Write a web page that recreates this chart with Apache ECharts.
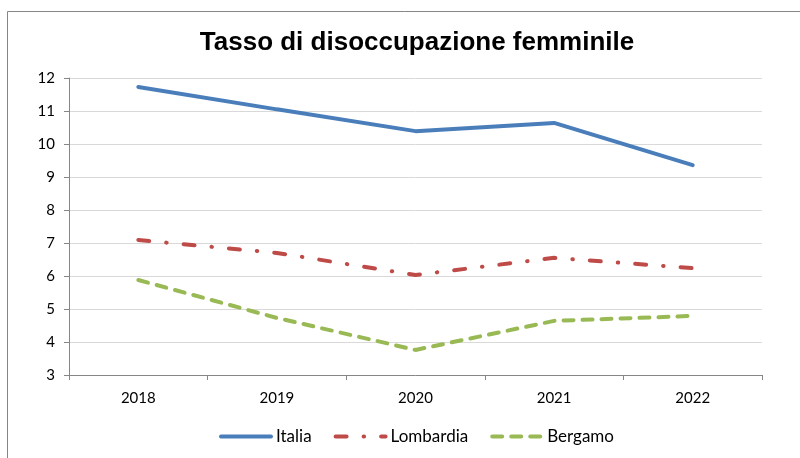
<!DOCTYPE html>
<html>
<head>
<meta charset="utf-8">
<script src="https://cdn.jsdelivr.net/npm/echarts@6/dist/echarts.min.js"></script>
<style>
  html, body { margin: 0; padding: 0; background: #fff; }
  #chart { width: 800px; height: 458px; }
</style>
</head>
<body>
<div id="chart"></div>
<script>
const YEARS = ['2018', '2019', '2020', '2021', '2022']
const ITALIA = [11.73, 11.05, 10.39, 10.64, 9.36]
const LOMBARDIA = [7.09, 6.7, 6.03, 6.55, 6.24]
const BERGAMO = [5.88, 4.73, 3.76, 4.64, 4.79]

const ITALIA_COLOR = '#4A7EBB'
const LOMBARDIA_COLOR = '#BE4B48'
const BERGAMO_COLOR = '#98B954'
const LABEL_FONT = 'Lato, "Open Sans", sans-serif'

const chart = echarts.init(document.getElementById('chart'))
chart.setOption({
  animation: false,
  title: {
    text: 'Tasso di disoccupazione femminile',
    left: 412,
    top: 25,
    textAlign: 'center',
    textStyle: {
      fontFamily: '"Liberation Sans", Arial, sans-serif',
      fontSize: 26,
      fontWeight: 'bold',
      color: '#000',
    },
  },
  graphic: [
    {
      type: 'rect',
      shape: { x: 7.5, y: 11.5, width: 820, height: 470 },
      style: { fill: 'none', stroke: '#868686', lineWidth: 1 },
    },
  ],
  legend: {
    bottom: 8,
    left: 214,
    itemWidth: 50,
    itemHeight: 14,
    itemGap: 22,
    itemStyle: { opacity: 0 },
    lineStyle: { width: 4 },
    textStyle: { fontFamily: LABEL_FONT, fontSize: 17, color: '#000' },
    data: ['Italia', 'Lombardia', 'Bergamo'],
  },
  grid: {
    left: 69,
    right: 38,
    top: 78,
    bottom: 83,
  },
  xAxis: {
    type: 'category',
    data: YEARS,
    boundaryGap: true,
    axisLine: { lineStyle: { color: '#868686', width: 1 } },
    axisTick: { show: true, length: 5, lineStyle: { color: '#868686' } },
    axisLabel: { color: '#000', fontFamily: LABEL_FONT, fontSize: 15, margin: 16 },
  },
  yAxis: {
    type: 'value',
    min: 3,
    max: 12,
    interval: 1,
    axisLine: { show: true, lineStyle: { color: '#868686', width: 1 } },
    axisTick: { show: true, length: 5, lineStyle: { color: '#868686' } },
    axisLabel: { color: '#000', fontFamily: LABEL_FONT, fontSize: 15, margin: 14 },
    splitLine: { show: true, lineStyle: { color: '#D9D9D9', width: 1 } },
  },
  series: [
    {
      name: 'Italia',
      type: 'line',
      data: ITALIA,
      symbol: 'none',
      lineStyle: { color: ITALIA_COLOR, width: 4, cap: 'round' },
      itemStyle: { color: ITALIA_COLOR },
    },
    {
      name: 'Lombardia',
      type: 'line',
      data: LOMBARDIA,
      symbol: 'none',
      lineStyle: { color: LOMBARDIA_COLOR, width: 4, type: [11, 17, 0.5, 17], cap: 'round' },
      itemStyle: { color: LOMBARDIA_COLOR },
    },
    {
      name: 'Bergamo',
      type: 'line',
      data: BERGAMO,
      symbol: 'none',
      lineStyle: { color: BERGAMO_COLOR, width: 4, type: [10, 9], cap: 'round' },
      itemStyle: { color: BERGAMO_COLOR },
    },
  ],
})
</script>
</body>
</html>
